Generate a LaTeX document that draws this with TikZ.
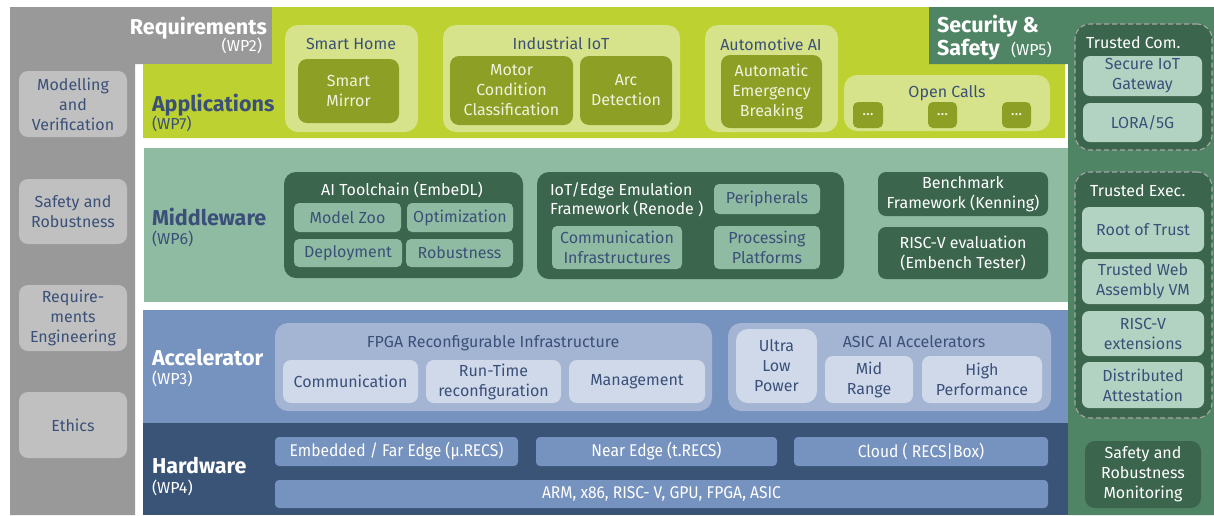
\documentclass[tikz,border=0pt]{standalone}
\usepackage{fontspec}
\setmainfont{Fira Sans}
\newfontfamily\condfont[FakeStretch=0.92]{Fira Sans}

\definecolor{cgray}{HTML}{999999}
\definecolor{cgraybox}{HTML}{C0C0C0}
\definecolor{cink}{HTML}{3B5078}
\definecolor{clime}{HTML}{BDD130}
\definecolor{climelight}{HTML}{D7E38A}
\definecolor{colive}{HTML}{8E9F25}
\definecolor{colivetext}{HTML}{F0F3DC}
\definecolor{csage}{HTML}{8FBBA2}
\definecolor{cforest}{HTML}{3C654D}
\definecolor{cblue}{HTML}{7692BF}
\definecolor{cbluepanel}{HTML}{A4B5D3}
\definecolor{cbluelight}{HTML}{D0D9EA}
\definecolor{cnavy}{HTML}{3A5478}
\definecolor{csec}{HTML}{4F8465}
\definecolor{cseclight}{HTML}{B3D3C2}
\definecolor{cdash}{HTML}{A8A8A8}

\newcommand\bodyfont{\fontsize{16}{20}\selectfont}
\newcommand\titlefont{\fontsize{21.5}{24}\selectfont\bfseries}
\newcommand\wpfont{\fontsize{16}{18}\selectfont}
\newcommand\hwfont{\condfont\fontsize{17}{19}\selectfont}

% box from corner (x1,y1) to corner (x2,y2)
\newcommand\Bx[7]{\node[#2, minimum width={(#5)-(#3)}, minimum height={(#6)-(#4)}]
  (#1) at ({((#3)+(#5))/2},{((#4)+(#6))/2}) {#7};}

\tikzset{
  lbl/.style={inner sep=0pt, outer sep=0pt, align=center, font=\bodyfont},
  reqbx/.style={lbl, fill=cgraybox, text=cink, rounded corners=9pt},
  apppanel/.style={lbl, fill=climelight, rounded corners=13pt},
  appcell/.style={lbl, fill=colive, text=colivetext, rounded corners=9pt},
  midpanel/.style={lbl, fill=cforest, rounded corners=12pt},
  midcell/.style={lbl, fill=csage, text=cink, rounded corners=5pt},
  middark/.style={lbl, fill=cforest, text=white, rounded corners=8pt},
  accpanel/.style={lbl, fill=cbluepanel, rounded corners=13pt},
  acccell/.style={lbl, fill=cbluelight, text=cink, rounded corners=8pt},
  hwcell/.style={lbl, fill=cblue, text=white, rounded corners=4pt, font=\hwfont},
  secpanel/.style={lbl, fill=cforest, draw=cdash, line width=1.1pt,
    dash pattern=on 5pt off 3pt, rounded corners=15pt},
  seccell/.style={lbl, fill=cseclight, text=cink, rounded corners=7pt},
  secdark/.style={lbl, fill=cforest, text=white, rounded corners=10pt},
  layer/.style={inner sep=0pt, outer sep=0pt, font=\titlefont, anchor=base west},
  wp/.style={inner sep=0pt, outer sep=0pt, font=\wpfont, anchor=base west},
  ptitle/.style={inner sep=0pt, outer sep=0pt, font=\bodyfont, anchor=base},
}

\begin{document}
\begin{tikzpicture}[x=1pt, y=-1pt]
\useasboundingbox (0,0) rectangle (1214,515);
\fill[white] (0,0) rectangle (1214,515);

% layer backgrounds
\fill[cgray] (10,7) -- (272,7) -- (272,64) -- (135,64) -- (135,515) -- (10,515) -- cycle;
\fill[clime] (272,7) -- (929,7) -- (929,64) -- (1065,64) -- (1065,138) -- (143,138)
  -- (143,64) -- (272,64) -- cycle;
\fill[csec] (929,7) -- (1214,7) -- (1214,515) -- (1068,515) -- (1068,64) -- (929,64) -- cycle;
\fill[csage] (144,148) rectangle (1068,302);
\fill[cblue] (143,310) rectangle (1068,423);
\fill[cnavy] (143,423) rectangle (1068,515);

% layer titles
\node[layer, anchor=base east, text=white] (reqT) at (267,34) {Requirements};
\node[wp, anchor=base east, text=white] (reqW) at (262,51) {(WP2)};
\node[layer, text=cink] (appT) at (152,111) {Applications};
\node[wp, text=cink] (appW) at (152,129) {(WP7)};
\node[layer, text=cink] (midT) at (152,225) {Middleware};
\node[wp, text=cink] (midW) at (152,244) {(WP6)};
\node[layer, text=white] (accT) at (152,365) {Accelerator};
\node[wp, text=white] (accW) at (152,384) {(WP3)};
\node[layer, text=white] (hwT) at (152,473) {Hardware};
\node[wp, text=white] (hwW) at (152,493) {(WP4)};
\node[layer, text=white] (secT1) at (937,32) {Security \&};
\node[layer, text=white] (secT2) at (937,55) {Safety};
\node[wp, text=white] (secW) at (1011,55) {(WP5)};

% requirements column
\Bx{mv}{reqbx}{19}{71}{127}{137}{Modelling\\and\\Verification}
\Bx{sr}{reqbx}{19}{179}{127}{244}{Safety and\\Robustness}
\Bx{re}{reqbx}{19}{285}{127}{351}{Require-\\ments\\Engineering}
\Bx{eth}{reqbx}{19}{392}{127}{458}{Ethics}

% applications
\Bx{shP}{apppanel}{285}{25}{418}{132}{}
\Bx{iiP}{apppanel}{443}{25}{680}{132}{}
\Bx{aaP}{apppanel}{705}{25}{838}{132}{}
\Bx{ocP}{apppanel}{844}{75}{1050}{131}{}
\node[ptitle, text=cink] (shT) at (351,49) {Smart Home};
\node[ptitle, text=cink] (iiT) at (561,49) {Industrial IoT};
\node[ptitle, text=cink] (aaT) at (771,50) {Automotive AI};
\node[ptitle, text=cink] (ocT) at (947,97) {Open Calls};
\Bx{sm}{appcell}{298}{59}{399}{123}{Smart\\Mirror}
\Bx{mc}{appcell}{450}{56}{573}{125}{Motor\\Condition\\Classification}
\Bx{ad}{appcell}{580}{56}{672}{125}{Arc\\Detection}
\Bx{aeb}{appcell}{721}{55}{822}{128}{Automatic\\Emergency\\Breaking}
\Bx{oc1}{appcell, rounded corners=5pt}{853}{102}{883}{128}{...}
\Bx{oc2}{appcell, rounded corners=5pt}{928}{102}{957}{128}{...}
\Bx{oc3}{appcell, rounded corners=5pt}{1002}{102}{1031}{128}{...}

% middleware
\Bx{aiP}{midpanel}{284}{172}{523}{278}{}
\node[ptitle, text=white] (aiT) at (402,195) {AI Toolchain (EmbeDL)};
\Bx{mz}{midcell}{294}{203}{401}{232}{Model Zoo}
\Bx{opt}{midcell}{407}{203}{513}{232}{Optimization}
\Bx{dep}{midcell}{294}{239}{402}{267}{Deployment}
\Bx{rob}{midcell}{406}{239}{513}{267}{Robustness}
\Bx{ioP}{midpanel}{537}{172}{844}{279}{}
\node[ptitle, anchor=base west, text=white] (ioT1) at (550,195) {IoT/Edge Emulation};
\node[ptitle, anchor=base west, text=white] (ioT2) at (550,214) {Framework (Renode )};
\Bx{per}{midcell}{714}{184}{820}{214}{Peripherals}
\Bx{ci}{midcell}{552}{226}{682}{269}{Communication\\Infrastructures}
\Bx{pp}{midcell}{714}{226}{820}{269}{Processing\\Platforms}
\Bx{bm}{middark}{878}{172}{1048}{216}{Benchmark\\Framework (Kenning)}
\Bx{rv}{middark}{878}{227}{1048}{279}{RISC-V evaluation\\(Embench Tester)}

% accelerator
\Bx{fpP}{accpanel}{275}{323}{712}{411}{}
\node[ptitle, text=cink] (fpT) at (493,347) {FPGA Reconfigurable Infrastructure};
\Bx{com}{acccell}{283}{360}{418}{403}{Communication}
\Bx{rt}{acccell}{426}{360}{561}{403}{Run-Time\\reconfiguration}
\Bx{mg}{acccell}{569}{360}{705}{403}{Management}
\Bx{asP}{accpanel}{728}{323}{1051}{411}{}
\node[ptitle, text=cink] (asT) at (914,347) {ASIC AI Accelerators};
\Bx{ulp}{acccell, rounded corners=12pt}{736}{329}{817}{403}{Ultra\\Low\\Power}
\Bx{mr}{acccell}{825}{356}{913}{403}{Mid\\Range}
\Bx{hp}{acccell}{922}{356}{1042}{403}{High\\Performance}

% hardware
\Bx{emb}{hwcell}{275}{437}{518}{466}{Embedded / Far Edge (μ.RECS)}
\Bx{ne}{hwcell}{536}{437}{777}{466}{Near Edge (t.RECS)}
\Bx{cl}{hwcell}{794}{437}{1048}{466}{Cloud ( RECS|Box)}
\Bx{arm}{hwcell}{275}{480}{1048}{508}{ARM, x86, RISC- V, GPU, FPGA, ASIC}

% security & safety
\Bx{tcP}{secpanel}{1075}{24}{1212}{150}{}
\node[ptitle, anchor=base west, text=white] (tcT) at (1086,48) {Trusted Com.};
\Bx{sig}{seccell}{1083}{56}{1202}{96}{Secure IoT\\Gateway}
\Bx{lora}{seccell}{1083}{103}{1202}{142}{LORA/5G}
\Bx{teP}{secpanel}{1075}{172}{1212}{418}{}
\node[ptitle, anchor=base west, text=white] (teT) at (1090,196) {Trusted Exec.};
\Bx{rot}{seccell}{1082}{207}{1204}{252}{Root of Trust}
\Bx{twa}{seccell}{1082}{259}{1204}{304}{Trusted Web\\Assembly VM}
\Bx{rvx}{seccell}{1082}{311}{1204}{356}{RISC-V\\extensions}
\Bx{da}{seccell}{1082}{362}{1204}{408}{Distributed\\Attestation}
\Bx{srm}{secdark}{1085}{441}{1201}{508}{Safety and\\Robustness\\Monitoring}
\end{tikzpicture}
\end{document}
